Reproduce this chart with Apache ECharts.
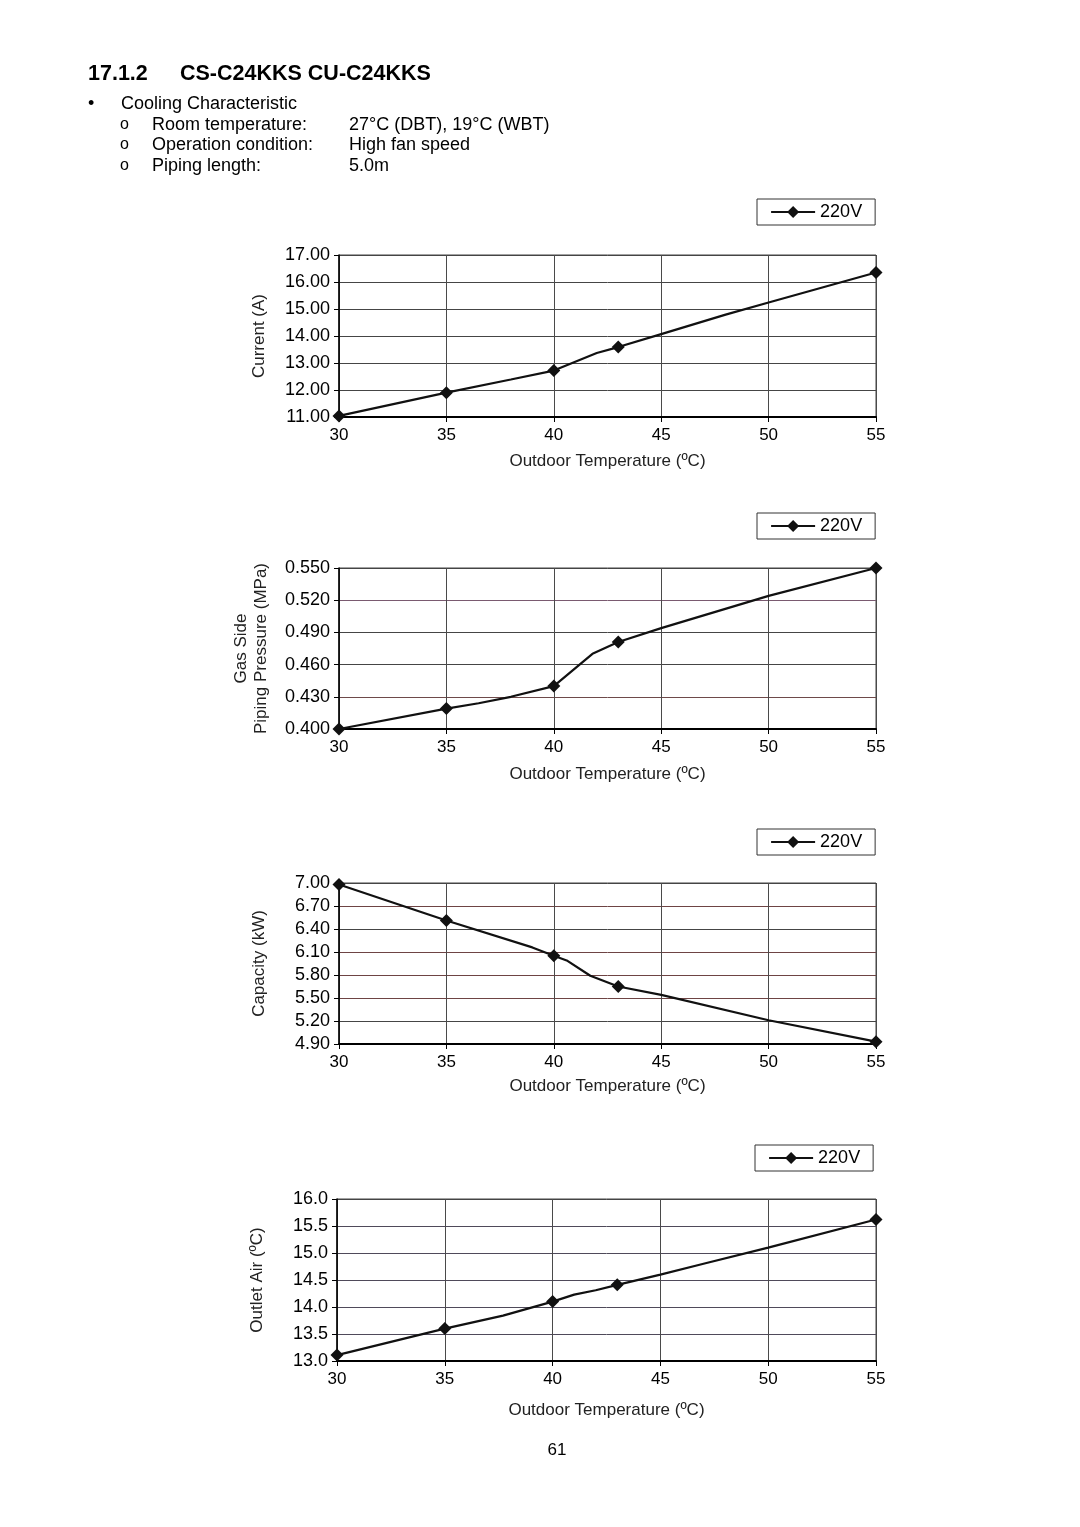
<!DOCTYPE html>
<html>
<head>
<meta charset="utf-8">
<script src="https://cdn.jsdelivr.net/npm/echarts@6/dist/echarts.min.js"></script>
<style>
html,body{margin:0;padding:0;background:#fff;}
#c{width:1080px;height:1527px;}
</style>
</head>
<body>
<div id="c"></div>
<script>
// ---- data ----
const xTicks = [30, 35, 40, 45, 50, 55];
const markerTemps = [30, 35, 40, 43, 55];

const currentX = [30, 35, 38, 40, 42, 43, 45, 48, 50, 55];
const currentY = [11.04, 11.90, 12.39, 12.72, 13.37, 13.59, 14.07, 14.79, 15.24, 16.35];
const currentTicks = ['11.00', '12.00', '13.00', '14.00', '15.00', '16.00', '17.00'];

const pressureX = [30, 35, 36.5, 38, 40, 41.8, 43, 45, 50, 55];
const pressureY = [0.400, 0.419, 0.424, 0.430, 0.440, 0.470, 0.481, 0.494, 0.524, 0.550];
const pressureTicks = ['0.400', '0.430', '0.460', '0.490', '0.520', '0.550'];

const capacityX = [30, 35, 39, 40, 40.6, 41.7, 43, 45, 50, 55];
const capacityY = [6.98, 6.51, 6.16, 6.05, 5.99, 5.79, 5.65, 5.54, 5.21, 4.93];
const capacityTicks = ['4.90', '5.20', '5.50', '5.80', '6.10', '6.40', '6.70', '7.00'];

const outletX = [30, 35, 37.7, 40, 41, 42, 43, 45, 47, 50, 55];
const outletY = [13.11, 13.60, 13.84, 14.10, 14.23, 14.31, 14.41, 14.60, 14.80, 15.10, 15.62];
const outletTicks = ['13.0', '13.5', '14.0', '14.5', '15.0', '15.5', '16.0'];

const seriesName = '220V';
const xName = 'Outdoor Temperature (ºC)';

// ---- build ----
const FONT = '"Liberation Sans", Arial, sans-serif';
const charts = [
  { x: currentX, y: currentY, ticks: currentTicks, name: 'Current (A)', yGap: 70,
    grid: { left: 339, top: 255, width: 537, height: 162 }, nameGap: 36,
    legend: { left: 757, top: 199 },
    split: ['#333', '#454545', '#454545', '#454545', '#454545', '#454545', '#444'] },
  { x: pressureX, y: pressureY, ticks: pressureTicks, name: 'Gas Side\nPiping Pressure (MPa)', yGap: 68,
    grid: { left: 339, top: 568, width: 537, height: 161 }, nameGap: 37,
    legend: { left: 757, top: 513 },
    split: ['#333', '#6e4a4a', '#454545', '#454545', '#7a5a70', '#444'] },
  { x: capacityX, y: capacityY, ticks: capacityTicks, name: 'Capacity (kW)', yGap: 70,
    grid: { left: 339, top: 883, width: 537, height: 161 }, nameGap: 34,
    legend: { left: 757, top: 829 },
    split: ['#333', '#454545', '#6e4444', '#6e4444', '#6e4444', '#454545', '#6e4444', '#444'] },
  { x: outletX, y: outletY, ticks: outletTicks, name: 'Outlet Air (ºC)', yGap: 70,
    grid: { left: 337, top: 1199, width: 539, height: 162 }, nameGap: 41,
    legend: { left: 755, top: 1145 },
    split: ['#333', '#4f4a5a', '#4f4a5a', '#4f4a5a', '#4f4a5a', '#4f4a5a', '#444'] }
];

const option = {
  backgroundColor: '#fff',
  animation: false,
  textStyle: { fontFamily: FONT },
  grid: [], xAxis: [], yAxis: [], series: [], legend: [],
  graphic: []
};

charts.forEach((c, i) => {
  option.grid.push(Object.assign({ show: true, borderColor: '#444', borderWidth: 1, containLabel: false }, c.grid));
  option.xAxis.push({
    gridIndex: i, type: 'value', min: xTicks[0], max: xTicks[xTicks.length - 1], interval: 5,
    name: xName, nameLocation: 'middle', nameGap: c.nameGap,
    nameTextStyle: { fontSize: 17, color: '#222', fontFamily: FONT },
    axisLine: { show: true, onZero: false, lineStyle: { color: '#000', width: 2 } },
    axisTick: { show: true, length: 5, lineStyle: { color: '#000', width: 1 } },
    axisLabel: { fontSize: 17, color: '#000', margin: 10, fontFamily: FONT },
    splitLine: { show: true, lineStyle: { color: '#4a4a4a', width: 1 } }
  });
  const lo = parseFloat(c.ticks[0]), hi = parseFloat(c.ticks[c.ticks.length - 1]);
  // value axis for the data
  option.yAxis.push({ gridIndex: i, type: 'value', min: lo, max: hi, show: false, position: 'right' });
  // label axis (tick labels as categories, evenly spaced)
  option.yAxis.push({
    gridIndex: i, type: 'category', data: c.ticks, boundaryGap: false, position: 'left',
    name: c.name, nameLocation: 'middle', nameGap: c.yGap,
    nameTextStyle: { fontSize: 17, color: '#222', fontFamily: FONT, lineHeight: 20 },
    axisLine: { show: true, lineStyle: { color: '#000', width: 1.5 } },
    axisTick: { show: true, length: 5, interval: 0, lineStyle: { color: '#000' } },
    axisLabel: { interval: 0, fontSize: 18, color: '#000', margin: 9, fontFamily: FONT },
    splitLine: { show: true, interval: 0, lineStyle: { color: c.split, width: 1 } }
  });
  option.series.push({
    type: 'line', name: seriesName, xAxisIndex: i, yAxisIndex: i * 2,
    clip: false, symbol: 'diamond', symbolSize: 13, showAllSymbol: true,
    lineStyle: { color: '#111', width: 2.2 }, itemStyle: { color: '#111' },
    data: c.x.map((t, k) => markerTemps.includes(t)
      ? { value: [t, c.y[k]] }
      : { value: [t, c.y[k]], symbol: 'none' })
  });
  option.legend.push({
    left: c.legend.left, top: c.legend.top, orient: 'horizontal',
    data: [seriesName], selectedMode: false,
    backgroundColor: '#fff', borderColor: '#333', borderWidth: 1,
    padding: [4, 13, 4, 13], itemWidth: 44, itemHeight: 15,
    lineStyle: { width: 2.2, color: '#111' },
    textStyle: { fontSize: 18, color: '#000', fontFamily: FONT }
  });
});

function T(x, y, s, size, weight) {
  return { type: 'text', x: x, y: y,
    style: { text: s, fontSize: size, fontWeight: weight || 'normal', fill: '#000', fontFamily: FONT,
             textAlign: 'left', textVerticalAlign: 'middle' } };
}
option.graphic = [
  T(88, 74, '17.1.2', 21.5, 'bold'),
  T(180, 74, 'CS-C24KKS CU-C24KKS', 21.5, 'bold'),
  T(88, 104, '•', 18),
  T(121, 104, 'Cooling Characteristic', 18),
  T(120, 125, 'o', 16), T(152, 125, 'Room temperature:', 18), T(349, 125, '27°C (DBT), 19°C (WBT)', 18),
  T(120, 145, 'o', 16), T(152, 145, 'Operation condition:', 18), T(349, 145, 'High fan speed', 18),
  T(120, 166, 'o', 16), T(152, 166, 'Piping length:', 18), T(349, 166, '5.0m', 18),
  { type: 'text', x: 557, y: 1450, style: { text: '61', fontSize: 17, fill: '#000', fontFamily: FONT, textAlign: 'center', textVerticalAlign: 'middle' } }
];

const chart = echarts.init(document.getElementById('c'), null, { renderer: 'canvas' });
chart.setOption(option);
</script>
</body>
</html>
